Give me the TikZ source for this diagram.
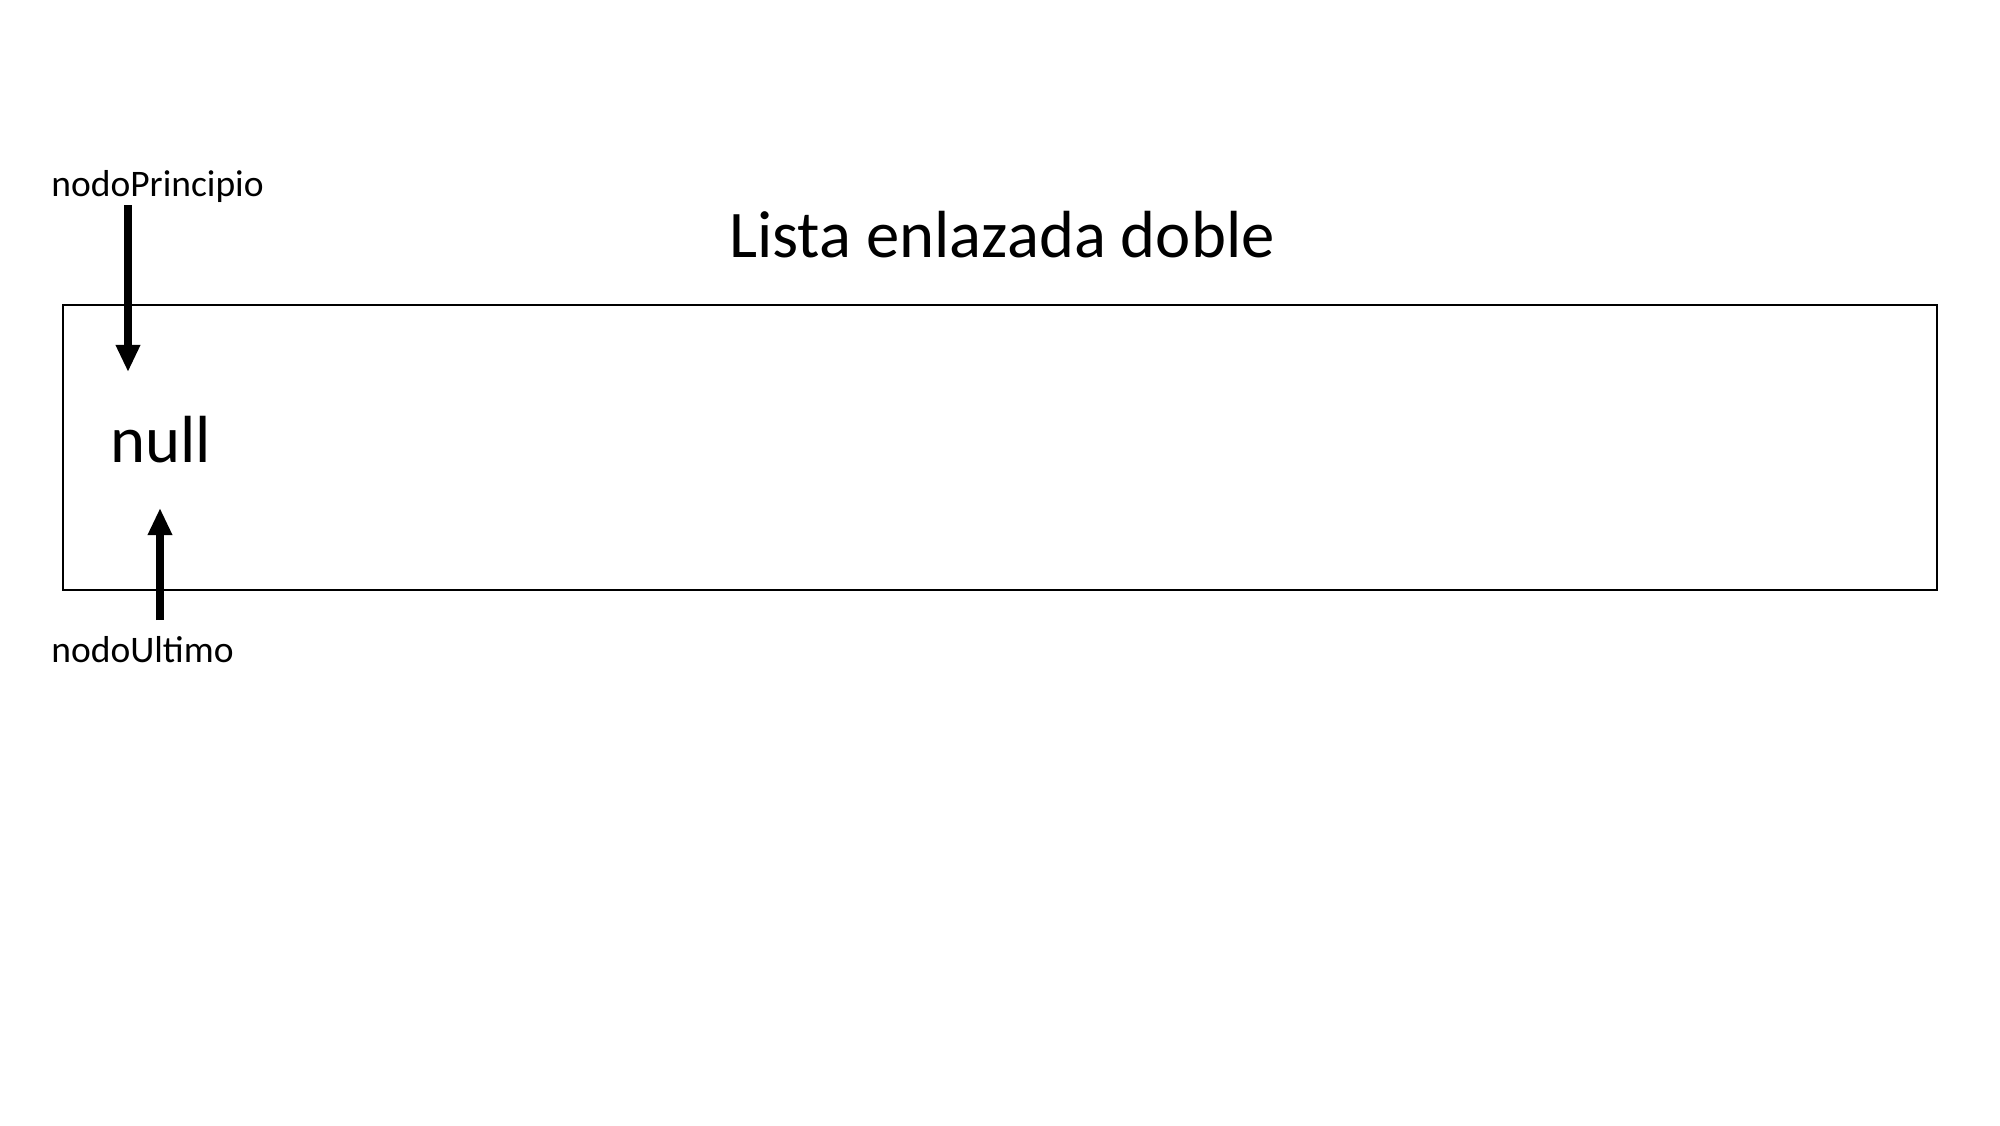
\documentclass[tikz,border=0pt]{standalone}
\usepackage{fontspec}
\setmainfont{Carlito}
\usetikzlibrary{arrows.meta}
\begin{document}
\begin{tikzpicture}[x=0.48pt,y=-0.48pt,
  lbl/.style={inner sep=0pt,anchor=west,font=\fontsize{18}{20}\selectfont},
  ptr/.style={line width=3.8pt,-{Triangle[length=13pt,width=11pt]}},
  frame/.style={draw,line width=1pt}]
\useasboundingbox (0,0) rectangle (2000,1125);
\node[frame,minimum width=1874*0.48pt,minimum height=285*0.48pt,inner sep=0pt] (box) at (1000,447.5) {};
\node[inner sep=0pt,font=\fontsize{32}{36}\selectfont] (title) at (1002,235) {Lista enlazada doble};
\node[lbl] (np) at (51,186) {nodoPrincipio};
\node[lbl] (nu) at (51,650) {nodoUltimo};
\node[inner sep=0pt,anchor=west,font=\fontsize{32}{36}\selectfont] (null) at (110,440) {null};
\coordinate (t1) at (128,372);
\coordinate (s1) at (128,205);
\coordinate (t2) at (160,508);
\coordinate (s2) at (160,620);
\draw[ptr] (s1) -- (t1);
\draw[ptr] (s2) -- (t2);
\end{tikzpicture}
\end{document}
